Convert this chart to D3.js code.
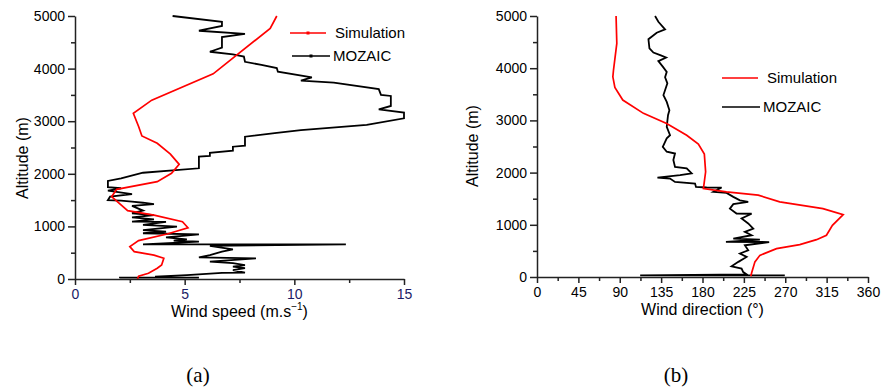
<!DOCTYPE html>
<html>
<head>
<meta charset="utf-8">
<script src="https://cdn.jsdelivr.net/npm/d3@7"></script>
<style>
  body { margin: 0; background: #fff; }
  text { font-family: "Liberation Sans", Arial, sans-serif; }
</style>
</head>
<body>
<div id="chart-area"></div>
<script>
// panel (a): wind speed [m/s, altitude m]
var simSpeed = [[9.2,5000],[8.9,4765],[6.3,3900],[3.5,3400],[2.66,3150],[2.9,2900],[3.05,2720],[3.75,2580],[4.35,2375],[4.75,2180],[4.4,2010],[3.75,1850],[1.9,1705],[1.67,1565],[2.4,1300],[3.6,1215],[4.9,1090],[5.15,975],[4.2,855],[2.9,730],[2.5,615],[2.7,520],[3.6,455],[4.05,395],[3.95,265],[3.75,205],[3.35,110],[2.9,55],[2.85,0]];
var mozSpeed = [[4.45,5000],[6.7,4890],[6.7,4810],[5.65,4720],[7.75,4660],[6.7,4600],[6.7,4400],[6.15,4320],[7.2,4270],[7.7,4230],[7.75,4130],[8.5,4070],[9.2,4010],[9.25,3940],[10.8,3835],[10.3,3770],[11.8,3735],[13.85,3610],[13.95,3500],[14.4,3480],[14.4,3290],[13.85,3225],[15,3165],[15,3055],[13.3,2930],[10.3,2830],[9.2,2780],[7.75,2705],[7.75,2535],[7.2,2515],[7.2,2440],[6.15,2400],[6.15,2340],[5.65,2325],[5.65,2105],[3.1,2020],[2.1,1915],[1.5,1865],[1.5,1745],[2.1,1725],[1.5,1680],[2.6,1615],[1.6,1565],[1.5,1500],[2.1,1490],[2.6,1470],[3.1,1450],[3.6,1425],[2.6,1390],[3.1,1300],[2.6,1250],[3.6,1215],[2.6,1170],[3.6,1135],[2.6,1090],[4.15,1085],[3.1,1030],[4.65,995],[3.1,930],[4.15,900],[3.1,870],[5.65,850],[4.15,790],[5.1,755],[4.5,730],[5.65,710],[3.1,660],[12.35,658],[6.15,630],[7.2,565],[6.7,520],[6.15,455],[5.65,410],[8.25,393],[6.15,330],[7.2,300],[7.75,265],[7.2,235],[7.75,205],[7.2,170],[7.75,120],[6.7,118],[5.1,75],[3.65,45],[5.65,28],[2.05,25],[2.05,15]];

// panel (b): wind direction [deg, altitude m]
var simDir = [[86,5000],[86.8,4475],[83.2,3965],[82.5,3835],[84.7,3630],[93.3,3390],[115.8,3135],[141,2940],[162.8,2715],[175.5,2545],[182,2355],[183.4,2015],[181,1695],[206,1630],[240.6,1567],[264,1440],[311,1310],[333,1195],[321.3,990],[314.8,800],[304,715],[285.8,620],[260.5,543],[242.4,415],[237,290],[233.4,77],[232.6,15]];
var mozDir = [[128.4,5000],[132,4890],[139.3,4745],[130.2,4680],[121.2,4555],[122.3,4380],[126.6,4300],[134,4250],[140.4,4205],[132,4135],[136.8,4030],[141.1,3930],[139.3,3825],[141.8,3710],[137.5,3485],[141.1,3355],[144,3195],[142.5,3100],[141.1,2875],[144.7,2715],[141.1,2655],[136.8,2495],[141.1,2400],[150.1,2365],[148.3,2240],[150.1,2110],[162.8,2080],[168.2,1985],[155.6,1950],[131,1905],[144.7,1885],[150.1,1820],[171.9,1790],[172.9,1725],[184.5,1715],[200.8,1714],[191.8,1630],[206.2,1610],[213.5,1535],[220.7,1470],[229.7,1440],[213.5,1395],[209.8,1310],[217,1215],[233.4,1212],[222.5,1120],[229.7,1025],[235.2,925],[226.1,865],[233.4,800],[213.5,735],[242.4,716],[205.5,672],[252.5,670],[226.1,607],[229.7,512],[220.7,450],[228,385],[219,290],[211.6,205],[222.5,160],[224.3,95],[228,50],[112.2,32],[269.5,32]];

var altTicks = [0,1000,2000,3000,4000,5000];
var altMinor = [500,1500,2500,3500,4500];
var speedTicks = [0,5,10,15];
var speedMinor = [2.5,7.5,12.5];
var dirTicks = [0,45,90,135,180,225,270,315,360];
var dirMinor = [22.5,67.5,112.5,157.5,202.5,247.5,292.5,337.5];

var svg = d3.select("#chart-area").append("svg")
  .attr("width", 881).attr("height", 388);

var panels = [
  {left:75, right:404, top:16, bottom:279, xmax:15, ticks:speedTicks, minor:speedMinor,
   sim:simSpeed, moz:mozSpeed, tickColor:"#1b1b66", ylabelX:22, ylabelY:158,
   legend:{x:290, y1:33, y2:56, marker:true}, tag:"(a)", tagX:198},
  {left:537, right:868, top:16, bottom:277, xmax:360, ticks:dirTicks, minor:dirMinor,
   sim:simDir, moz:mozDir, tickColor:"#000", ylabelX:472, ylabelY:146,
   legend:{x:722, y1:78, y2:107, marker:false}, tag:"(b)", tagX:676}
];

panels.forEach(function(p, i) {
  var x = d3.scaleLinear().domain([0, p.xmax]).range([p.left, p.right]);
  var y = d3.scaleLinear().domain([0, 5000]).range([p.bottom, p.top]);

  var line = d3.line().x(d => x(d[0])).y(d => y(d[1]));

  svg.append("path").datum(p.moz)
    .attr("d", line).attr("fill", "none")
    .attr("stroke", "#000").attr("stroke-width", 1.8);

  svg.append("path").datum(p.sim)
    .attr("d", line).attr("fill", "none")
    .attr("stroke", "#ff0000").attr("stroke-width", 1.7);

  // axes
  var yAxis = svg.append("g").attr("transform", "translate(" + p.left + ",0)")
    .call(d3.axisLeft(y).tickValues(altTicks).tickFormat(d3.format("d"))
      .tickSize(7).tickSizeOuter(0).tickPadding(3));
  svg.append("g").attr("transform", "translate(" + p.left + ",0)")
    .call(d3.axisLeft(y).tickValues(altMinor).tickSize(4).tickFormat(""))
    .select(".domain").remove();

  var xAxis = svg.append("g").attr("transform", "translate(0," + p.bottom + ")")
    .call(d3.axisBottom(x).tickValues(p.ticks).tickSize(6).tickSizeOuter(0).tickPadding(4));
  svg.append("g").attr("transform", "translate(0," + p.bottom + ")")
    .call(d3.axisBottom(x).tickValues(p.minor).tickSize(4).tickFormat(""))
    .select(".domain").remove();

  svg.selectAll(".domain, .tick line").attr("stroke", "#222").attr("stroke-width", 1.5);
  yAxis.selectAll("text").attr("font-size", "14px").attr("fill", "#000");
  xAxis.selectAll("text").attr("font-size", "14px").attr("fill", p.tickColor);

  // axis titles
  svg.append("text")
    .attr("transform", "translate(" + p.ylabelX + "," + p.ylabelY + ") rotate(-90)")
    .attr("text-anchor", "middle").attr("dy", "0.35em")
    .attr("font-size", "16px").text("Altitude (m)");

  var xt = svg.append("text")
    .attr("x", (p.left + p.right) / 2).attr("y", p.bottom + 38)
    .attr("text-anchor", "middle").attr("font-size", "16px");
  if (i === 0) {
    xt.append("tspan").text("Wind speed (m.s");
    xt.append("tspan").attr("font-size", "10px").attr("dy", "-7").text("\u22121");
    xt.append("tspan").attr("dy", "7").text(")");
  } else {
    xt.text("Wind direction (\u00b0)");
  }

  // legend
  var lg = p.legend;
  [["Simulation", "#ff0000", lg.y1], ["MOZAIC", "#000", lg.y2]].forEach(function(e, k) {
    var x1 = lg.x + (k === 1 && lg.marker ? 2 : 0);
    var x2 = lg.x + (lg.marker ? (k === 0 ? 36 : 40) : (k === 0 ? 36 : 38));
    svg.append("line").attr("x1", x1).attr("x2", x2).attr("y1", e[2]).attr("y2", e[2])
      .attr("stroke", e[1]).attr("stroke-width", 1.6);
    if (lg.marker) {
      svg.append("rect").attr("x", (x1 + x2) / 2 - 1.5).attr("y", e[2] - 1.5)
        .attr("width", 3).attr("height", 3).attr("fill", e[1]);
    }
    svg.append("text").attr("x", x2 + (k === 0 ? 9 : 3)).attr("y", e[2] + 5)
      .attr("font-size", "15px").text(e[0]);
  });

  svg.append("text").attr("x", p.tagX).attr("y", 382)
    .attr("text-anchor", "middle").attr("font-size", "21px")
    .style("font-family", "'Liberation Serif', 'Times New Roman', serif")
    .text(p.tag);
});
</script>
</body>
</html>
